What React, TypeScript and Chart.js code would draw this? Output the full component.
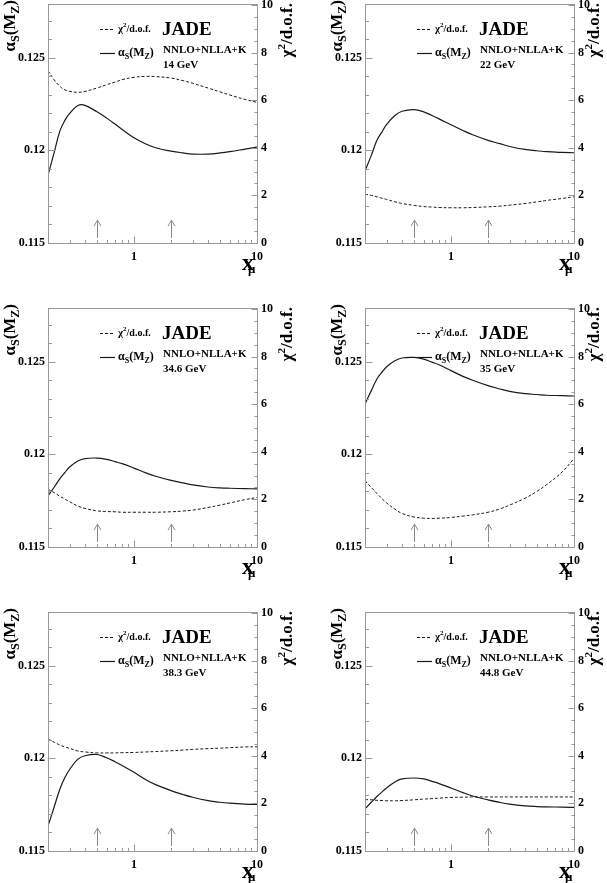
import React, { useEffect, useRef } from 'react';
import { Chart, registerables } from 'chart.js';

Chart.register(...registerables);

const FONT = '"Liberation Serif", "DejaVu Serif", serif';
const LINE = '#1a1a1a';
const FRAME = '#999999';
const ARROW = '#8a8a8a';

// renormalisation scale factor x_mu
const MU = [0.2, 0.225, 0.25, 0.275, 0.3, 0.35, 0.4, 0.5, 0.6, 0.7, 0.8, 1, 1.25, 1.5, 2, 2.5, 3, 4, 5, 6, 8, 10];

const ALPHA_14 = [0.11866, 0.1199, 0.12105, 0.12163, 0.122, 0.12242, 0.12243, 0.12208, 0.12174, 0.12142, 0.12113, 0.12068, 0.12034, 0.12014, 0.11996, 0.11986, 0.1198, 0.1198, 0.11986, 0.11993, 0.12007, 0.12018];
const CHI2_14 = [7.24, 6.85, 6.58, 6.43, 6.37, 6.33, 6.37, 6.51, 6.65, 6.76, 6.86, 6.96, 7.0, 6.99, 6.93, 6.82, 6.71, 6.51, 6.35, 6.22, 6.03, 5.91];

const ALPHA_22 = [0.11889, 0.11973, 0.12054, 0.121, 0.1214, 0.12188, 0.12211, 0.1222, 0.12208, 0.12188, 0.1217, 0.12138, 0.12107, 0.12084, 0.12054, 0.12036, 0.12021, 0.12005, 0.11998, 0.11993, 0.11989, 0.11987];
const CHI2_22 = [2.05, 2.0, 1.94, 1.88, 1.83, 1.73, 1.66, 1.58, 1.53, 1.51, 1.49, 1.48, 1.48, 1.49, 1.52, 1.55, 1.59, 1.66, 1.73, 1.79, 1.87, 1.94];

const ALPHA_346 = [0.11776, 0.11824, 0.11869, 0.11903, 0.11932, 0.11964, 0.11977, 0.1198, 0.11973, 0.11961, 0.1195, 0.11926, 0.119, 0.11882, 0.1186, 0.11846, 0.11835, 0.11824, 0.11819, 0.11817, 0.11815, 0.11814];
const CHI2_346 = [2.43, 2.28, 2.13, 2.01, 1.9, 1.72, 1.62, 1.52, 1.49, 1.48, 1.46, 1.46, 1.46, 1.46, 1.48, 1.51, 1.55, 1.66, 1.76, 1.85, 1.99, 2.08];

const ALPHA_35 = [0.12272, 0.12344, 0.12407, 0.12444, 0.12473, 0.12505, 0.1252, 0.12523, 0.12514, 0.12498, 0.12484, 0.12452, 0.12421, 0.124, 0.12371, 0.12353, 0.1234, 0.12328, 0.12323, 0.12319, 0.12317, 0.12315];
const CHI2_35 = [2.78, 2.5, 2.25, 2.03, 1.85, 1.59, 1.41, 1.26, 1.21, 1.2, 1.21, 1.24, 1.3, 1.35, 1.46, 1.6, 1.76, 2.05, 2.34, 2.62, 3.15, 3.71];

const ALPHA_383 = [0.11634, 0.1174, 0.11835, 0.11898, 0.1194, 0.11996, 0.12014, 0.12021, 0.12003, 0.11982, 0.11962, 0.11925, 0.11885, 0.11858, 0.11826, 0.11805, 0.1179, 0.11772, 0.11763, 0.11758, 0.11753, 0.11751];
const CHI2_383 = [4.71, 4.57, 4.45, 4.37, 4.31, 4.2, 4.16, 4.12, 4.12, 4.12, 4.13, 4.14, 4.16, 4.18, 4.21, 4.24, 4.27, 4.3, 4.32, 4.34, 4.37, 4.38];

const ALPHA_448 = [0.11728, 0.11763, 0.11794, 0.11819, 0.1184, 0.11873, 0.11889, 0.11894, 0.11889, 0.11876, 0.11864, 0.1184, 0.11815, 0.11797, 0.11776, 0.11762, 0.11753, 0.11744, 0.1174, 0.11738, 0.11737, 0.11735];
const CHI2_448 = [2.16, 2.15, 2.13, 2.12, 2.11, 2.11, 2.12, 2.15, 2.18, 2.2, 2.22, 2.25, 2.26, 2.27, 2.27, 2.27, 2.27, 2.27, 2.27, 2.27, 2.27, 2.27];

const ENERGIES = ['14 GeV', '22 GeV', '34.6 GeV', '35 GeV', '38.3 GeV', '44.8 GeV'];
const ALPHAS = [ALPHA_14, ALPHA_22, ALPHA_346, ALPHA_35, ALPHA_383, ALPHA_448];
const CHI2S = [CHI2_14, CHI2_22, CHI2_346, CHI2_35, CHI2_383, CHI2_448];

// axes
const X_TICKS = [0.2, 0.3, 0.4, 0.5, 0.6, 0.7, 0.8, 0.9, 1, 2, 3, 4, 5, 6, 7, 8, 9, 10];
const X_MAJOR = [1, 10];
const X_LABELS = ['1', '10'];
const ALPHA_TICKS = [0.115, 0.116, 0.117, 0.118, 0.119, 0.12, 0.121, 0.122, 0.123, 0.124, 0.125, 0.126, 0.127];
const ALPHA_MAJOR = [0.115, 0.12, 0.125];
const ALPHA_LABELS = ['0.115', '0.12', '0.125'];
const CHI2_TICKS = [0, 0.5, 1, 1.5, 2, 2.5, 3, 3.5, 4, 4.5, 5, 5.5, 6, 6.5, 7, 7.5, 8, 8.5, 9, 9.5, 10];
const CHI2_MAJOR = [0, 2, 4, 6, 8, 10];
const CHI2_LABELS = ['0', '2', '4', '6', '8', '10'];

// scale-choice arrows (x_mu = 0.5 and 2), heights in chi2 units
const ARROW_MU = [0.5, 2];
const ARROW_CHI2 = [0.21, 0.96];

type Part = { t: string; s: number; dy?: number };

const near = (a: number, b: number) => Math.abs(a - b) < 1e-9;
const findIdx = (arr: number[], v: number) => arr.findIndex((a) => near(a, v));

function partsWidth(ctx: CanvasRenderingContext2D, parts: Part[]) {
  let w = 0;
  for (const p of parts) {
    ctx.font = `bold ${p.s}px ${FONT}`;
    w += ctx.measureText(p.t).width;
  }
  return w;
}

function drawParts(ctx: CanvasRenderingContext2D, parts: Part[], x: number, y: number) {
  let cx = x;
  for (const p of parts) {
    ctx.font = `bold ${p.s}px ${FONT}`;
    ctx.fillText(p.t, cx, y + (p.dy ?? 0));
    cx += ctx.measureText(p.t).width;
  }
}

function drawPartsRotated(ctx: CanvasRenderingContext2D, parts: Part[], xBase: number, yTop: number) {
  const w = partsWidth(ctx, parts);
  ctx.save();
  ctx.translate(xBase, yTop + w);
  ctx.rotate(-Math.PI / 2);
  drawParts(ctx, parts, 0, 0);
  ctx.restore();
}

const TITLE_ALPHA: Part[] = [
  { t: 'α', s: 17 },
  { t: 'S', s: 12, dy: 4 },
  { t: '(M', s: 17 },
  { t: 'Z', s: 12, dy: 4 },
  { t: ')', s: 17 },
];
const TITLE_CHI2: Part[] = [
  { t: 'χ', s: 17 },
  { t: '2', s: 11, dy: -7 },
  { t: '/d.o.f.', s: 17 },
];
const LEG_CHI2: Part[] = [
  { t: 'χ', s: 11 },
  { t: '2', s: 7, dy: -5 },
  { t: '/d.o.f.', s: 10 },
];
const LEG_ALPHA: Part[] = [
  { t: 'α', s: 12 },
  { t: 'S', s: 8, dy: 3 },
  { t: '(M', s: 12 },
  { t: 'Z', s: 8, dy: 3 },
  { t: ')', s: 12 },
];

function Panel({ idx }: { idx: number }) {
  const ref = useRef<HTMLCanvasElement>(null);
  const col = idx % 2;
  const row = Math.floor(idx / 2);
  const W = col === 0 ? 300 : 290;
  const H = row === 2 ? 275 : 304;
  const left = col === 0 ? 0 : 317;
  const top = row * 304;

  useEffect(() => {
    const canvas = ref.current;
    if (!canvas) return;
    const shift = col === 0 ? 0 : 10;
    const alpha = ALPHAS[idx];
    const chi2 = CHI2S[idx];
    const energy = ENERGIES[idx];
    const tickFont = { family: FONT, size: 12, weight: 'bold' as const };

    const deco = {
      id: 'deco',
      afterDraw(chart: any) {
        const ctx: CanvasRenderingContext2D = chart.ctx;
        const a = chart.chartArea;
        const xs = chart.scales.x;
        const ys = chart.scales.y;
        const y1 = chart.scales.y1;
        const L = Math.round(a.left);
        const R = Math.round(a.right);
        const T = Math.round(a.top);
        const B = Math.round(a.bottom);
        ctx.save();
        // frame
        ctx.strokeStyle = FRAME;
        ctx.lineWidth = 1;
        ctx.setLineDash([]);
        ctx.strokeRect(L + 0.5, T + 0.5, R - L, B - T);
        // ticks
        ctx.beginPath();
        for (const v of X_TICKS) {
          const px = Math.round(xs.getPixelForValue(v)) + 0.5;
          const len = findIdx(X_MAJOR, v) >= 0 ? 7 : 3.5;
          ctx.moveTo(px, B + 0.5);
          ctx.lineTo(px, B + 0.5 - len);
        }
        for (const v of ALPHA_TICKS) {
          const py = Math.round(ys.getPixelForValue(v)) + 0.5;
          const len = findIdx(ALPHA_MAJOR, v) >= 0 ? 7 : 3.5;
          ctx.moveTo(L + 0.5, py);
          ctx.lineTo(L + 0.5 + len, py);
        }
        for (const v of CHI2_TICKS) {
          const py = Math.round(y1.getPixelForValue(v)) + 0.5;
          const len = findIdx(CHI2_MAJOR, v) >= 0 ? 6 : 3;
          ctx.moveTo(R + 0.5, py);
          ctx.lineTo(R + 0.5 - len, py);
        }
        ctx.stroke();
        // arrows
        ctx.strokeStyle = ARROW;
        ctx.lineWidth = 1;
        ctx.beginPath();
        for (const m of ARROW_MU) {
          const px = Math.round(xs.getPixelForValue(m)) + 0.5;
          const yb = y1.getPixelForValue(ARROW_CHI2[0]);
          const yt = y1.getPixelForValue(ARROW_CHI2[1]);
          ctx.moveTo(px, yb);
          ctx.lineTo(px, yt);
          ctx.moveTo(px - 3.5, yt + 6);
          ctx.lineTo(px, yt);
          ctx.lineTo(px + 3.5, yt + 6);
        }
        ctx.stroke();
        // legend samples
        ctx.strokeStyle = LINE;
        ctx.setLineDash([3, 2]);
        ctx.beginPath();
        ctx.moveTo(L + 52, T + 25.5);
        ctx.lineTo(L + 67, T + 25.5);
        ctx.stroke();
        ctx.setLineDash([]);
        ctx.lineWidth = 1.2;
        ctx.beginPath();
        ctx.moveTo(L + 52, T + 49.5);
        ctx.lineTo(L + 67, T + 49.5);
        ctx.stroke();
        // legend texts
        ctx.fillStyle = '#000';
        ctx.textBaseline = 'alphabetic';
        ctx.textAlign = 'left';
        drawParts(ctx, LEG_CHI2, L + 70, T + 28);
        drawParts(ctx, LEG_ALPHA, L + 70, T + 52);
        ctx.font = `bold 19px ${FONT}`;
        ctx.fillText('JADE', L + 114, T + 31);
        ctx.font = `bold 11px ${FONT}`;
        ctx.fillText('NNLO+NLLA+K', L + 115, T + 49);
        ctx.fillText(energy, L + 115, T + 64);
        // axis titles
        drawPartsRotated(ctx, TITLE_ALPHA, L - 33 + shift, T - 4);
        drawPartsRotated(ctx, TITLE_CHI2, R + 35 - shift, T - 1);
        ctx.font = `bold 24px ${FONT}`;
        ctx.fillText('x', R - 15, B + 27);
        ctx.font = `bold 13px ${FONT}`;
        ctx.fillText('μ', R - 9, B + 30);
        ctx.restore();
      },
    };

    const chart = new Chart(canvas, {
      type: 'line',
      data: {
        datasets: [
          {
            label: 'αS(MZ)',
            data: MU.map((x, j) => ({ x, y: alpha[j] })),
            yAxisID: 'y',
            borderColor: LINE,
            borderWidth: 1.2,
            pointRadius: 0,
            tension: 0.4,
            fill: false,
          },
          {
            label: 'χ2/d.o.f.',
            data: MU.map((x, j) => ({ x, y: chi2[j] })),
            yAxisID: 'y1',
            borderColor: LINE,
            borderWidth: 1,
            borderDash: [3, 2],
            pointRadius: 0,
            tension: 0.4,
            fill: false,
          },
        ],
      },
      options: {
        animation: false,
        responsive: false,
        devicePixelRatio: 1,
        events: [],
        layout: { padding: { top: 4, left: 0, right: 0, bottom: 0 } },
        plugins: {
          legend: { display: false },
          tooltip: { enabled: false },
          title: { display: false },
        },
        scales: {
          x: {
            type: 'logarithmic',
            min: 0.2,
            max: 10,
            afterBuildTicks: (s: any) => {
              s.ticks = X_TICKS.map((v) => ({ value: v }));
            },
            afterFit: (s: any) => {
              s.height = H - 243;
              s.paddingLeft = 0;
              s.paddingRight = 0;
            },
            grid: { display: false, drawTicks: false },
            border: { display: false },
            ticks: {
              autoSkip: false,
              maxRotation: 0,
              minRotation: 0,
              padding: 7,
              color: '#000',
              font: tickFont,
              callback: (v: any) => {
                const k = findIdx(X_MAJOR, Number(v));
                return k >= 0 ? X_LABELS[k] : '';
              },
            },
          },
          y: {
            type: 'linear',
            position: 'left',
            min: 0.115,
            max: 0.1279,
            afterBuildTicks: (s: any) => {
              s.ticks = ALPHA_TICKS.map((v) => ({ value: v }));
            },
            afterFit: (s: any) => {
              s.width = 48;
              s.paddingTop = 0;
              s.paddingBottom = 0;
            },
            grid: { display: false, drawTicks: false },
            border: { display: false },
            ticks: {
              autoSkip: false,
              padding: 3,
              color: '#000',
              font: tickFont,
              callback: (v: any) => {
                const k = findIdx(ALPHA_MAJOR, Number(v));
                return k >= 0 ? ALPHA_LABELS[k] : '';
              },
            },
          },
          y1: {
            type: 'linear',
            position: 'right',
            min: 0,
            max: 10.04,
            afterBuildTicks: (s: any) => {
              s.ticks = CHI2_TICKS.map((v) => ({ value: v }));
            },
            afterFit: (s: any) => {
              s.width = W - 257;
              s.paddingTop = 0;
              s.paddingBottom = 0;
            },
            grid: { display: false, drawTicks: false },
            border: { display: false },
            ticks: {
              autoSkip: false,
              padding: 4,
              color: '#000',
              font: tickFont,
              callback: (v: any) => {
                const k = findIdx(CHI2_MAJOR, Number(v));
                return k >= 0 ? CHI2_LABELS[k] : '';
              },
            },
          },
        },
      } as any,
      plugins: [deco],
    });
    return () => chart.destroy();
  }, [idx, W, H, col]);

  return (
    <canvas
      ref={ref}
      width={W}
      height={H}
      style={{ position: 'absolute', left, top, width: W, height: H, display: 'block' }}
    />
  );
}

export default function App() {
  return (
    <div
      style={{
        position: 'absolute',
        left: 0,
        top: 0,
        width: 607,
        height: 883,
        overflow: 'hidden',
        background: '#fff',
      }}
    >
      {ENERGIES.map((_, i) => (
        <Panel key={i} idx={i} />
      ))}
    </div>
  );
}
